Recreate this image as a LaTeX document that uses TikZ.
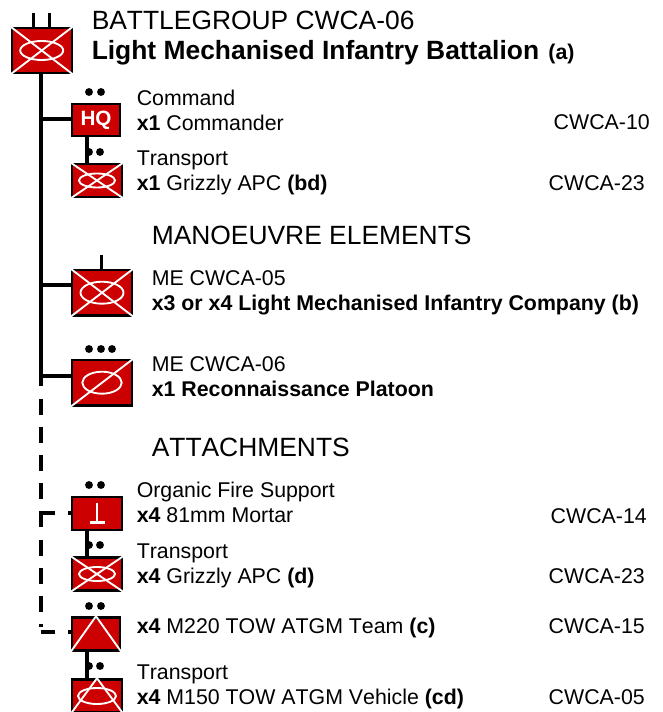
\documentclass[tikz,border=0pt]{standalone}
\usepackage{fontspec}
\setmainfont[Kerning=Off]{Liberation Sans}
\usepackage{tikz}
\usetikzlibrary{positioning, calc}
\definecolor{unitred}{HTML}{CC0000}
\tikzstyle{unit} = [rectangle,
draw=black,
line width=1.8pt,
fill=unitred,
inner sep=0pt]
\tikzstyle{bigunit} = [unit, minimum width=45pt, minimum height=34pt]
\tikzstyle{smallunit} = [unit, minimum width=37.5pt, minimum height=24.8pt]
\tikzstyle{symbol} = [draw=white, line width=1.4pt]
\tikzstyle{link} = [line width=3pt, draw=black]
\tikzstyle{linkdash} = [link, dash pattern=on 12pt off 9.15pt]
\tikzstyle{stub} = [link, dash pattern=on 12pt off 9.75pt, dash phase=10.25pt]
\tikzstyle{dot} = [circle, fill=black, inner sep=0pt, minimum size=5.9pt]
\tikzstyle{label} = [anchor=west, align=left, inner sep=0pt,
font=\fontsize{16}{18.9}\selectfont]
\tikzstyle{title} = [anchor=west, inner sep=0pt, font=\fontsize{19.8}{22}\selectfont]
\tikzstyle{ref} = [anchor=east, inner sep=0pt, font=\fontsize{16}{18.9}\selectfont]

\begin{document}
\begin{tikzpicture}[x=0.75pt, y=-0.75pt]
    \useasboundingbox (0,0) rectangle (662,712);

    \coordinate (top) at (41,74);
    \coordinate (solidend) at (41,386);
    \coordinate (dashstart) at (41,398.5);
    \coordinate (dashend) at (41,627);
    \coordinate (thq) at (41,119);
    \coordinate (tme) at (41,285);
    \coordinate (trec) at (41,375.5);
    \coordinate (tmor) at (41,513);
    \coordinate (ttow) at (41,632.3);
    \coordinate (tiex) at (86.7,0);

    % trunk first, units on top
    \draw [link] (top) -- (solidend);
    \draw [linkdash] (dashstart) -- (dashend);

    \node (bg) [bigunit] at (41.7,50.5) {};
    \node (hq) [smallunit, minimum width=36pt, minimum height=24pt, text=white,
        font=\fontsize{15.5}{18}\selectfont\bfseries] at (96,120.3) {HQ};
    \node (apc) [smallunit] at (97,180.5) {};
    \node (coy) [bigunit] at (102,292.7) {};
    \node (recce) [bigunit] at (102,382.7) {};
    \node (mor) [smallunit] at (97,513.3) {};
    \node (morapc) [smallunit] at (97,574) {};
    \node (tow) [smallunit, minimum width=36pt] at (96,634) {};
    \node (towveh) [smallunit] at (97,696) {};

    \draw [link] (thq) -- (thq -| hq.west);
    \draw [link] (tme) -- (tme -| coy.west);
    \draw [link] (trec) -- (trec -| recce.west);
    \draw [stub] (tmor -| mor.west) -- (tmor);
    \draw [stub] (ttow -| tow.west) -- (ttow);
    \draw [link] (tiex |- hq.south) -- (tiex |- apc.north);
    \draw [link] (tiex |- mor.south) -- (tiex |- morapc.north);
    \draw [link] (tiex |- tow.south) -- (tiex |- towveh.north);

    % echelon marks
    \coordinate (tickl) at (33.3,13);
    \coordinate (tickr) at (49.3,13);
    \coordinate (tickm) at (101.7,255);
    \draw [link, line width=2.4pt] (tickl) -- (tickl |- bg.north);
    \draw [link, line width=2.4pt] (tickr) -- (tickr |- bg.north);
    \draw [link, line width=2.4pt] (tickm) -- (tickm |- coy.north);
    \foreach \x/\y [count=\i] in {89/92, 101/92, 89/152, 100/152, 89/349, 101/349, 112/349,
        89/485, 101/485, 89/545, 100/545, 89/606, 101/606, 89/666, 100/666}
        \node (dot\i) [dot] at (\x,\y) {};

    % unit symbols
    \foreach \u in {bg, apc, coy, morapc} {
        \draw [symbol] (\u.north west) -- (\u.south east);
        \draw [symbol] (\u.south west) -- (\u.north east);
    }
    \draw [symbol] (recce.south west) -- (recce.north east);
    \foreach \u/\rx/\ry in {bg/21.5/9.5, apc/18/7, coy/21.5/11, recce/19.7/11, morapc/18/7, towveh/19/8}
        \draw [symbol] (\u) ellipse (\rx pt*0.75 and \ry pt*0.75);
    \foreach \u in {tow, towveh}
        \draw [symbol] (\u.south west) -- (\u.north) -- (\u.south east);
    \draw [symbol, line width=1.8pt] (mor.center) ++(0,-10) -- ++(0,19);
    \draw [symbol, line width=2.2pt] (mor.center) ++(-7.5,9) -- ++(15,0);

    % headings
    \node (bgname) [title] at (91.5,20.5) {BATTLEGROUP CWCA-06};
    \node (bgtype) [title, font=\fontsize{19.8}{22}\selectfont\bfseries] at (91.5,53)
        {Light Mechanised Infantry Battalion \kern1.5pt{\fontsize{16}{18}\selectfont (a)}};
    \node (mehead) [title] at (151.5,235) {MANOEUVRE ELEMENTS};
    \node (athead) [title] at (151.5,447) {ATTACHMENTS};

    % unit texts
    \node (hqtxt) [label] at (136.5,110) {Command\\\textbf{x1} Commander};
    \node (apctxt) [label] at (136.5,173) {Transport\\\textbf{x1} Grizzly APC \textbf{(bd)}};
    \node (coytxt) [label] at (151.5,293) {ME CWCA-05\\\textbf{x3 or x4 Light Mechanised Infantry Company (b)}};
    \node (rectxt) [label] at (151.5,376.5) {ME CWCA-06\\\textbf{x1 Reconnaissance Platoon}};
    \node (mortxt) [label] at (136.5,502.5) {Organic Fire Support\\\textbf{x4} 81mm Mortar};
    \node (mapctxt) [label] at (136.5,566) {Transport\\\textbf{x4} Grizzly APC \textbf{(d)}};
    \node (towtxt) [label] at (136.5,628) {\textbf{x4} M220 TOW ATGM Team \textbf{(c)}};
    \node (vehtxt) [label] at (136.5,687) {Transport\\\textbf{x4} M150 TOW ATGM Vehicle \textbf{(cd)}};

    \node (ref1) [ref] at (650,122) {CWCA-10};
    \node (ref2) [ref] at (645,183) {CWCA-23};
    \node (ref3) [ref] at (647,516) {CWCA-14};
    \node (ref4) [ref] at (645,576) {CWCA-23};
    \node (ref5) [ref] at (645,626) {CWCA-15};
    \node (ref6) [ref] at (645,697) {CWCA-05};
\end{tikzpicture}
\end{document}
